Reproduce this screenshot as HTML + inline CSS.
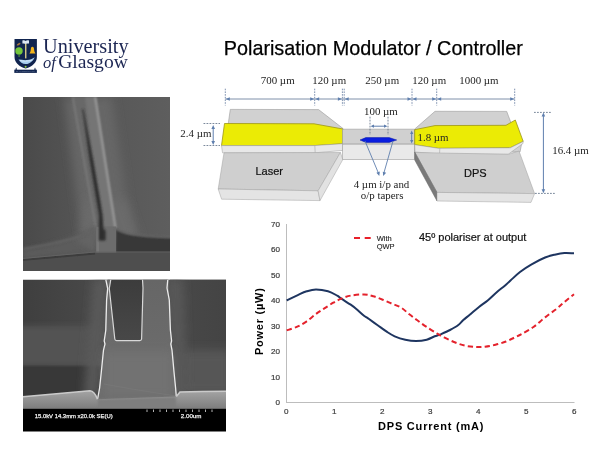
<!DOCTYPE html>
<html><head><meta charset="utf-8"><title>Polarisation Modulator / Controller</title>
<style>
html,body{margin:0;padding:0;background:#fff;}
body{width:600px;height:467px;overflow:hidden;position:relative;}
svg{position:absolute;left:0;top:0;display:block;}
</style></head><body>
<svg width="600" height="467" viewBox="0 0 600 467">
<defs>
  <filter id="b1" x="-50%" y="-50%" width="200%" height="200%"><feGaussianBlur stdDeviation="1"/></filter>
  <filter id="b2" x="-50%" y="-50%" width="200%" height="200%"><feGaussianBlur stdDeviation="2.5"/></filter>
  <filter id="b4" x="-50%" y="-50%" width="200%" height="200%"><feGaussianBlur stdDeviation="5"/></filter>
  <filter id="b05" x="-50%" y="-50%" width="200%" height="200%"><feGaussianBlur stdDeviation="0.5"/></filter>
  <linearGradient id="sem1bg" x1="0" y1="0" x2="1" y2="0">
    <stop offset="0" stop-color="#4a4a4a"/><stop offset="0.4" stop-color="#555"/><stop offset="1" stop-color="#5e5e5e"/>
  </linearGradient>
  <linearGradient id="sem2bot" x1="0" y1="0" x2="0" y2="1">
    <stop offset="0" stop-color="#a4a4a4"/><stop offset="1" stop-color="#7c7c7c"/>
  </linearGradient>
  <linearGradient id="sem2l" x1="23" y1="0" x2="107" y2="0" gradientUnits="userSpaceOnUse">
    <stop offset="0" stop-color="#3f3f3f"/><stop offset="0.7" stop-color="#474747"/><stop offset="1" stop-color="#505050"/>
  </linearGradient>
  <linearGradient id="sem2r" x1="170" y1="0" x2="226" y2="0" gradientUnits="userSpaceOnUse">
    <stop offset="0" stop-color="#505050"/><stop offset="0.4" stop-color="#474747"/><stop offset="1" stop-color="#444"/>
  </linearGradient>
  <linearGradient id="ridge" x1="0" y1="279.5" x2="0" y2="360" gradientUnits="userSpaceOnUse">
    <stop offset="0" stop-color="#666"/><stop offset="0.7" stop-color="#6a6a6a"/><stop offset="1" stop-color="#6c6c6c"/>
  </linearGradient>
  <linearGradient id="slotg" x1="0" y1="279.5" x2="0" y2="341" gradientUnits="userSpaceOnUse">
    <stop offset="0" stop-color="#3c3c3c"/><stop offset="1" stop-color="#484848"/>
  </linearGradient>
  <clipPath id="c1"><rect x="23" y="97" width="147" height="174"/></clipPath>
  <clipPath id="c2"><rect x="23" y="279.5" width="203" height="129.5"/></clipPath>
</defs>

<!-- ===== Logo ===== -->
<g>
  <path d="M14.5,39 H36.9 V57 C36.9,62.5 32.5,66.5 25.6,68.6 C18.9,66.5 14.5,62.5 14.5,57 Z" fill="#11244f"/>
  <path d="M22.4,40.6 C23.8,40.1 24.9,40.4 25.6,41 C26.4,40.4 27.5,40.1 29,40.6 L29,43.6 C27.6,43.2 26.5,43.4 25.6,43.9 C24.8,43.4 23.7,43.2 22.4,43.6 Z" fill="#dde6f4"/>
  <ellipse cx="18.6" cy="44.2" rx="2.1" ry="0.9" fill="#a8773f" transform="rotate(-30 18.6 44.2)"/>
  <rect x="25.1" y="43.8" width="1.3" height="14.6" fill="#e6d68a"/>
  <circle cx="19" cy="50.9" r="3.7" fill="#74c63c"/>
  <rect x="18.6" y="54" width="0.9" height="3" fill="#5aa832"/>
  <path d="M32.4,46.8 C31.2,46.8 30.9,48 30.8,49.5 C30.7,51.5 30,52.6 29.4,53.6 L35.5,53.6 C34.9,52.6 34.2,51.5 34.1,49.5 C34,48 33.6,46.8 32.4,46.8 Z" fill="#f3b41b"/>
  <path d="M18.5,59.6 C21,59.9 24,60.3 27,60.1 C30,59.9 32.5,58.9 34.7,57.3 C34.2,58.8 33.4,60 32.2,61 C30.5,62.9 28,64.1 25.5,64.1 C22.5,64.1 20,62.3 18.5,59.6 Z" fill="#a6cdee"/>
  <path d="M20,60.5 C23,61.3 28,61.5 32.5,60" stroke="#e8f2fb" stroke-width="0.7" fill="none"/>
  <circle cx="25.6" cy="66.8" r="1" fill="#93cf3b"/>
  <path d="M14.3,69.7 H36.9 V72.9 H14.3 Z" fill="#11244f"/>
  <path d="M15.2,69.8 L16.2,67.6 L17.2,69.8 Z M34,69.8 L35,67.6 L36,69.8 Z" fill="#11244f"/>
  <text x="25.6" y="72.2" text-anchor="middle" font-family="Liberation Serif, serif" font-size="2.6" textLength="19.5" lengthAdjust="spacingAndGlyphs" fill="#a9b8d4">VIA VERITAS VITA</text>
  <text x="43" y="52.6" font-family="Liberation Serif, serif" font-size="20.3" fill="#1c2653">University</text>
  <text x="43" y="68.3" font-family="Liberation Serif, serif" font-size="19" fill="#1c2653"><tspan font-style="italic" font-size="16.5">of</tspan><tspan x="58.2" font-size="19.6">Glasgow</tspan></text>
</g>

<!-- ===== Title ===== -->
<text x="223.8" y="55" font-family="Liberation Sans, Arial, sans-serif" font-size="19.8" fill="#000" stroke="#000" stroke-width="0.25">Polarisation Modulator / Controller</text>

<!-- ===== SEM image 1 ===== -->
<g clip-path="url(#c1)">
  <rect x="23" y="97" width="147" height="174" fill="url(#sem1bg)"/>
  <!-- glow around waveguide -->
  <path d="M64,97 L112,97 L132,236 L82,236 Z" fill="#666" filter="url(#b4)"/>
  <path d="M86,200 L126,200 L140,240 L80,240 Z" fill="#6a6a6a" filter="url(#b4)"/>
  <path d="M72.7,97 L95.2,97 L115.5,228 L96,228 Z" fill="#686868" filter="url(#b1)"/>
  <path d="M85,97 L95.2,97 L115.5,228 L101,228 Z" fill="#747474" filter="url(#b1)"/>
  <path d="M72.7,97 L96,228" stroke="#808080" stroke-width="1.4" filter="url(#b1)"/>
  <path d="M95.2,97 L115.5,228" stroke="#a0a0a0" stroke-width="2" filter="url(#b1)"/>
  <!-- base -->
  <path d="M96,226 C85,233 70,239 45,246 C35,248 28,249 22,250 L22,259 L95,252.5 Z" fill="#5b5b5b" filter="url(#b2)"/>
  <path d="M96,226 C90,232 85,236 75,240 L95,252 Z" fill="#636363" filter="url(#b2)"/>
  <path d="M116,229 C125,236 145,238 180,238 L180,253 L116,253 Z" fill="#393939" filter="url(#b1)"/>
  <path d="M96,226.5 L116,226.5 L116,253 L96,253 Z" fill="#6c6c6c" filter="url(#b05)"/>
  <path d="M96.5,227 L99,227 L99,253 L96.5,253 Z" fill="#777" filter="url(#b05)"/>
  <path d="M82.2,109 L83.4,109 L93.2,160 L100.2,200 L102.6,215 L103.5,229 L105.5,230.5 L105.5,240.5 L98.8,240.5 L98.8,215 L96.3,200 L89.6,160 Z" fill="#2e2e2e" filter="url(#b1)"/>
  <path d="M96.5,228 C88,235 70,241 23,249" stroke="#666" stroke-width="1.6" fill="none" filter="url(#b1)"/>
  <path d="M115.5,228 C122,234 140,237 180,237" stroke="#666" stroke-width="1.6" fill="none" filter="url(#b1)"/>
  <path d="M115.5,228 L115.5,253" stroke="#7a7a7a" stroke-width="0.8" filter="url(#b05)"/>
  
  <path d="M22,259 L95,252.5 L180,252.5 L180,271 L22,271 Z" fill="#4e4e4e"/>
  <path d="M22,260 L95,253.5" stroke="#3c3c3c" stroke-width="2" fill="none" filter="url(#b05)"/>
  <path d="M22,258.5 L95,252 L180,252" stroke="#626262" stroke-width="1" fill="none" filter="url(#b05)"/>
</g>

<!-- ===== SEM image 2 ===== -->
<g>
  <g clip-path="url(#c2)">
    <rect x="23" y="279.5" width="203" height="130" fill="url(#sem2l)"/>
    <rect x="18" y="326" width="86" height="40" fill="#525252" filter="url(#b2)"/>
    <rect x="18" y="366" width="82" height="30" fill="#393939" filter="url(#b1)"/>
    <rect x="170" y="279.5" width="56" height="130" fill="url(#sem2r)"/>
    <rect x="180" y="350" width="52" height="45" fill="#565656" filter="url(#b4)"/>
    <!-- glows next to ridge -->
    <path d="M94,279.5 L107,279.5 L98,397 L84,397 Z" fill="#5a5a5a" filter="url(#b4)"/>
    <path d="M168,279.5 L182,279.5 L186,397 L175,397 Z" fill="#585858" filter="url(#b4)"/>
    <!-- central ridge -->
    <path d="M107.2,279.5 L168.4,279.5 L171.3,343 L175.7,388 L176.5,397 L97.5,399.5 L99.5,388 L104.6,343 Z" fill="#6c6c6c"/>
    <path d="M108,279.5 L168,279.5 L171,360 L104,360 Z" fill="url(#ridge)"/>
    <rect x="104" y="352" width="68" height="46" fill="#727272" filter="url(#b4)"/>
    <path d="M104,384 C125,388 150,392 176,396" stroke="#7a7a7a" stroke-width="0.6" fill="none"/>
    <!-- slot -->
    <path d="M110.8,279.5 L142.5,279.5 L143,288 L141.6,339 Q141.4,340.6 139.8,340.6 L116.5,340.6 Q115,340.6 114.8,339 L109.3,288.5 Z" fill="url(#slotg)" stroke="#d8d8d8" stroke-width="1.2"/>
    <!-- ridge edges -->
    <path d="M105.8,279.5 L107.7,288.5 L106.6,300 L105.8,330 L104.2,341 L105,344 L103.5,350 L101.3,372 L99.6,388 L97.6,399" stroke="#ececec" stroke-width="1.3" fill="none" filter="url(#b05)"/>
    <path d="M167.8,279.5 L167,288 L169.3,300 L170.4,330 L171.6,341 L170.8,344 L172,350 L174,372 L175.6,388 L176.3,396.5" stroke="#ececec" stroke-width="1.3" fill="none" filter="url(#b05)"/>
    <!-- bottom band -->
    <path d="M23,396.7 L90,390.8 C93,391 95.5,394 97.5,399.2 L176.3,396.5 L180,392 C195,391.5 215,391.3 226,391.3 L226,409 L23,409 Z" fill="url(#sem2bot)"/>
    <path d="M98,399.5 L176,397 L176,409 L98,409 Z" fill="#7e7e7e" filter="url(#b1)"/>
    <path d="M23,396.7 L90,390.8 C93,391 95.5,394 97.5,399.2" stroke="#cacaca" stroke-width="1.6" fill="none" filter="url(#b05)"/>
    <path d="M176.3,396.5 L180,392 C195,391.5 215,391.3 226,391.3" stroke="#cacaca" stroke-width="1.6" fill="none" filter="url(#b05)"/>
  </g>
    <rect x="23" y="408.8" width="203" height="22.7" fill="#000"/>
  <g stroke="#e0e0e0" stroke-width="0.8">
    <path d="M147,409.5v2.5M153.5,409.5v2.5M160,409.5v2.5M166.5,409.5v2.5M173,409.5v2.5M179.5,409.5v2.5M186,409.5v2.5M192.5,409.5v2.5M199,409.5v2.5M205.5,409.5v2.5M212,409.5v2.5"/>
  </g>
  <text x="34.7" y="417.6" font-family="Liberation Sans, Arial, sans-serif" font-size="5.9" fill="#f0f0f0" stroke="#f0f0f0" stroke-width="0.25">15.0kV 14.3mm x20.0k SE(U)</text>
  <text x="180.8" y="417.8" font-family="Liberation Sans, Arial, sans-serif" font-size="6.2" fill="#f0f0f0" stroke="#f0f0f0" stroke-width="0.25">2.00um</text>
</g>

<!-- ===== Diagram ===== -->
<g font-family="Liberation Serif, serif" font-size="10.9" fill="#222">
  <!-- top dimension -->
  <line x1="225.3" y1="99" x2="514.7" y2="99" stroke="#7f90aa" stroke-width="1"/>
  <g stroke="#6f84a6" stroke-width="0.9" stroke-dasharray="1.6,1.1">
    <line x1="225.3" y1="88.7" x2="225.3" y2="105.5"/>
    <line x1="314.7" y1="88.7" x2="314.7" y2="105.5"/>
    <line x1="342.4" y1="88.7" x2="342.4" y2="105.5"/>
    <line x1="344.2" y1="88.7" x2="344.2" y2="105.5"/>
    <line x1="412" y1="88.7" x2="412" y2="105.5"/>
    <line x1="436.7" y1="88.7" x2="436.7" y2="105.5"/>
    <line x1="514.7" y1="88.7" x2="514.7" y2="105.5"/>
  </g>
  <g fill="#5f7fae">
    <path d="M225.8,99 l4,-1.8 v3.6z"/><path d="M314.2,99 l-4,-1.8 v3.6z"/>
    <path d="M315.2,99 l4,-1.8 v3.6z"/><path d="M341.9,99 l-4,-1.8 v3.6z"/>
    <path d="M344.7,99 l4,-1.8 v3.6z"/><path d="M411.5,99 l-4,-1.8 v3.6z"/>
    <path d="M412.5,99 l4,-1.8 v3.6z"/><path d="M436.2,99 l-4,-1.8 v3.6z"/>
    <path d="M437.2,99 l4,-1.8 v3.6z"/><path d="M514.2,99 l-4,-1.8 v3.6z"/>
  </g>
  <text x="260.8" y="84">700 µm</text>
  <text x="312.3" y="84">120 µm</text>
  <text x="365.3" y="84">250 µm</text>
  <text x="412.3" y="84">120 µm</text>
  <text x="459.3" y="84">1000 µm</text>

  <!-- left 2.4um dimension -->
  <g stroke="#6b7a90" stroke-width="0.9" stroke-dasharray="1.8,1.2">
    <line x1="203.5" y1="123.5" x2="220" y2="123.5"/>
    <line x1="203.5" y1="145.5" x2="220" y2="145.5"/>
  </g>
  <line x1="213.2" y1="127" x2="213.2" y2="143" stroke="#5f7fae" stroke-width="1"/>
  <path d="M213.2,125 l-1.8,4 h3.6z M213.2,145 l-1.8,-4 h3.6z" fill="#5f7fae"/>
  <text x="180.3" y="137.2">2.4 µm</text>

  <!-- LASER (left) device -->
  <path d="M230.3,109.4 L318.6,109.6 L343,128.5 L343,146 L225,146 Z" fill="#d1d1d1" stroke="#9a9a9a" stroke-width="0.6"/>
  <path d="M224.5,123.5 L314,123.8 L343,129 L343,143.7 L314,145.6 L221.5,145.6 Z" fill="#ebeb05" stroke="#9c9618" stroke-width="0.8"/>
  <path d="M221.5,145.6 L314,145.6 L343,143.7 L343,150.4 L315,152.8 L222.5,152.8 Z" fill="#e8e8e8" stroke="#9a9a9a" stroke-width="0.5"/>
  <line x1="314.8" y1="145.6" x2="315.2" y2="152.8" stroke="#9a9a9a" stroke-width="0.5"/>
  <path d="M224,152.8 L340.4,152.5 L318.1,190.8 L218.2,189 Z" fill="#cfcfcf" stroke="#a0a0a0" stroke-width="0.5"/>
  <path d="M218.2,189 L318.1,190.8 L320,200.6 L221.6,199.2 Z" fill="#e4e4e4" stroke="#a0a0a0" stroke-width="0.5"/>
  <path d="M340.4,152.5 L342.8,159.6 L320,200.6 L318.1,190.8 Z" fill="#e2e2e2" stroke="#a0a0a0" stroke-width="0.5"/>
  <text x="255.5" y="174.5" font-family="Liberation Sans, Arial, sans-serif" font-size="11" fill="#111" stroke="#111" stroke-width="0.2">Laser</text>

  <!-- centre block -->
  <path d="M342.5,129.2 L414.5,129.2 L414.5,144.2 L342.5,144.2 Z" fill="#d0d0d0" stroke="#9a9a9a" stroke-width="0.6"/>
  <path d="M342.5,144.2 L414.5,144.2 L414.5,159.5 L342.5,159.5 Z" fill="#e9e9e9" stroke="#9a9a9a" stroke-width="0.6"/>
  <path d="M360,140 L365.8,137.6 L389.2,137.6 L396.7,140 L389.2,142.4 L365.8,142.4 Z" fill="#0a1ee0" stroke="#0a16a0" stroke-width="0.5"/>
  <g stroke="#6b7a90" stroke-width="0.9" stroke-dasharray="1.8,1.2">
    <line x1="370" y1="116.7" x2="370" y2="135"/>
    <line x1="388" y1="116.7" x2="388" y2="135"/>
  </g>
  <line x1="372" y1="126.2" x2="386" y2="126.2" stroke="#5f7fae" stroke-width="1"/>
  <path d="M370.5,126.2 l3.5,-1.6 v3.2z M387.5,126.2 l-3.5,-1.6 v3.2z" fill="#5f7fae"/>
  <text x="364" y="115">100 µm</text>
  <!-- taper arrows -->
  <g stroke="#5f7fae" stroke-width="0.9">
    <line x1="365" y1="141" x2="378.8" y2="174"/>
    <line x1="393" y1="141" x2="383.6" y2="174"/>
  </g>
  <path d="M379.3,176 l-2.9,-3.2 l3.4,-1.2z M383.2,176 l-0.4,-4.3 l3.4,1.1z" fill="#5f7fae"/>
  <text x="353.7" y="187.5">4 µm i/p and</text>
  <text x="360.8" y="199.2">o/p tapers</text>
  <!-- 1.8um -->
  <line x1="411.7" y1="132.5" x2="411.7" y2="141.8" stroke="#5f7fae" stroke-width="1"/>
  <path d="M411.7,130.6 l-1.6,3.4 h3.2z M411.7,143.5 l-1.6,-3.4 h3.2z" fill="#5f7fae"/>

  <!-- DPS (right) device -->
  <path d="M435,111.3 L506.7,111.4 L510.3,121 L522,142 L520,152 L414.5,152 L414.5,129.2 Z" fill="#d1d1d1" stroke="#9a9a9a" stroke-width="0.6"/>
  <path d="M414.7,129.7 L435,125.6 L506,125.3 L515.3,120 L523.2,141.4 L510.3,147.8 L438.3,148.3 L414.7,144.7 Z" fill="#ebeb05" stroke="#9c9618" stroke-width="0.8"/>
  <path d="M414.7,144.7 L438.3,148.3 L510.3,147.8 L523.2,141.4 L523,143.5 L508.2,154.3 L439.8,154 L415,152 Z" fill="#e8e8e8" stroke="#9a9a9a" stroke-width="0.5"/>
  <line x1="439.8" y1="148.3" x2="439.6" y2="154" stroke="#9a9a9a" stroke-width="0.5"/>
  <path d="M415,152.5 L508.2,154.3 L519,151 L534.6,193.6 L437,192.4 Z" fill="#cfcfcf" stroke="#a0a0a0" stroke-width="0.5"/>
  <path d="M414.7,152 L437,192.4 L437,201 L414.7,160 Z" fill="#7a7a7a" stroke="#666" stroke-width="0.5"/>
  <path d="M437,192.4 L534.6,193.6 L531,202.4 L437,201 Z" fill="#e4e4e4" stroke="#a0a0a0" stroke-width="0.5"/>
  <text x="464" y="176.8" font-family="Liberation Sans, Arial, sans-serif" font-size="11" fill="#111" stroke="#111" stroke-width="0.2">DPS</text>
  <text x="417.5" y="141.3">1.8 µm</text>

  <!-- 16.4um -->
  <g stroke="#6b7a90" stroke-width="0.9" stroke-dasharray="1.8,1.2">
    <line x1="534" y1="112.4" x2="551" y2="112.4"/>
    <line x1="535" y1="193.4" x2="556" y2="193.4"/>
  </g>
  <line x1="543.4" y1="115" x2="543.4" y2="191" stroke="#5f7fae" stroke-width="1"/>
  <path d="M543.4,112.6 l-1.8,4 h3.6z M543.4,193.2 l-1.8,-4 h3.6z" fill="#5f7fae"/>
  <text x="552.2" y="153.8">16.4 µm</text>
</g>

<!-- ===== Chart ===== -->
<g font-family="Liberation Sans, Arial, sans-serif">
  <line x1="286.5" y1="224" x2="286.5" y2="402.5" stroke="#bdbdbd" stroke-width="1"/>
  <line x1="286" y1="402.5" x2="574.5" y2="402.5" stroke="#bdbdbd" stroke-width="1"/>
  <g font-size="8.1" fill="#3a3a3a" stroke="#3a3a3a" stroke-width="0.2" text-anchor="end">
    <text x="280" y="226.9">70</text>
    <text x="280" y="252.4">60</text>
    <text x="280" y="277.9">50</text>
    <text x="280" y="303.4">40</text>
    <text x="280" y="328.9">30</text>
    <text x="280" y="354.4">20</text>
    <text x="280" y="379.9">10</text>
    <text x="280" y="405.4">0</text>
  </g>
  <g font-size="8.1" fill="#3a3a3a" stroke="#3a3a3a" stroke-width="0.2" text-anchor="middle">
    <text x="286.3" y="414.4">0</text>
    <text x="334.3" y="414.4">1</text>
    <text x="382.3" y="414.4">2</text>
    <text x="430.3" y="414.4">3</text>
    <text x="478.3" y="414.4">4</text>
    <text x="526.3" y="414.4">5</text>
    <text x="574.3" y="414.4">6</text>
  </g>
  <text x="378" y="430" font-size="11" font-weight="bold" letter-spacing="0.8" fill="#000">DPS Current (mA)</text>
  <text transform="translate(263.4,355) rotate(-90)" font-size="11" font-weight="bold" letter-spacing="0.75" fill="#000">Power (µW)</text>
  <path d="M286.7,300.5 C288.5,299.6 294.0,296.8 297.3,295.3 C300.6,293.8 303.6,292.2 306.7,291.3 C309.8,290.4 312.4,289.6 316.0,289.6 C319.6,289.6 324.4,290.3 328.0,291.3 C331.6,292.3 335.1,294.5 337.3,295.7 C339.5,296.9 339.1,297.2 341.3,298.7 C343.5,300.2 348.2,303.0 350.7,304.7 C353.1,306.4 353.8,306.9 356.0,308.7 C358.2,310.5 362.0,314.1 364.0,315.7 C366.0,317.3 365.8,316.8 368.0,318.3 C370.2,319.9 374.2,322.8 377.3,325.0 C380.4,327.2 383.8,329.8 386.7,331.7 C389.6,333.6 391.6,335.0 394.7,336.3 C397.8,337.6 401.8,338.9 405.3,339.7 C408.9,340.5 412.4,341.0 416.0,341.0 C419.6,341.0 423.6,340.5 426.7,339.7 C429.8,338.9 432.4,337.2 434.7,336.3 C437.0,335.4 438.1,335.4 440.7,334.3 C443.2,333.2 447.1,331.5 450.0,330.0 C452.9,328.5 455.8,327.0 458.0,325.3 C460.2,323.6 461.3,321.8 463.3,320.0 C465.3,318.2 467.4,316.7 470.0,314.5 C472.6,312.3 476.0,309.4 479.0,307.0 C482.0,304.6 485.0,302.7 488.0,300.2 C491.0,297.7 494.2,294.4 497.0,292.0 C499.8,289.6 502.2,287.9 504.5,286.0 C506.8,284.1 507.9,282.8 510.5,280.5 C513.1,278.2 516.5,274.7 520.0,272.0 C523.5,269.3 527.4,266.7 531.6,264.3 C535.8,261.9 541.2,259.1 545.1,257.5 C549.0,255.9 551.5,255.4 554.7,254.7 C557.9,254.0 561.2,253.3 564.4,253.1 C567.6,252.9 572.4,253.3 574.0,253.3" fill="none" stroke="#1e3560" stroke-width="2"/>
  <path d="M286.7,330.4 C288.5,329.8 294.0,328.2 297.3,326.7 C300.6,325.2 303.6,323.4 306.7,321.3 C309.8,319.2 313.1,316.1 316.0,314.0 C318.9,311.9 321.1,310.6 324.0,308.7 C326.9,306.8 330.4,304.4 333.3,302.7 C336.2,301.0 338.4,299.9 341.3,298.7 C344.2,297.5 346.9,296.3 350.7,295.6 C354.5,294.9 360.2,294.4 364.0,294.5 C367.8,294.6 370.2,295.4 373.3,296.3 C376.4,297.2 379.6,298.5 382.7,299.7 C385.8,300.9 388.9,302.4 392.0,303.7 C395.1,305.0 398.4,305.9 401.3,307.7 C404.2,309.5 406.6,312.2 409.3,314.3 C412.0,316.4 414.4,318.2 417.3,320.3 C420.2,322.4 423.4,324.8 426.7,327.0 C430.0,329.2 434.5,332.0 437.3,333.7 C440.1,335.4 440.5,335.6 443.3,337.0 C446.1,338.4 450.4,340.6 454.0,342.0 C457.6,343.4 461.1,344.8 464.7,345.6 C468.2,346.4 471.9,346.8 475.3,347.0 C478.7,347.2 481.6,347.1 485.0,346.7 C488.4,346.3 492.0,345.7 495.5,344.8 C499.0,343.9 502.8,342.8 506.0,341.5 C509.2,340.2 512.3,338.6 515.0,337.3 C517.7,336.0 518.9,335.5 522.0,333.8 C525.1,332.1 529.6,329.7 533.5,327.0 C537.4,324.3 541.2,320.4 545.1,317.4 C549.0,314.3 553.5,311.3 556.7,308.7 C559.9,306.1 561.5,304.4 564.4,302.0 C567.3,299.6 572.4,295.5 574.0,294.2" fill="none" stroke="#e4222c" stroke-width="2" stroke-dasharray="5.3,3.2"/>
  <path d="M354,238 h16.7" stroke="#e8202a" stroke-width="2.2" stroke-dasharray="6,4.7"/>
  <text x="376.7" y="240.7" font-size="7.5" fill="#222" stroke="#222" stroke-width="0.12">With</text>
  <text x="376.7" y="249.4" font-size="7.5" fill="#222" stroke="#222" stroke-width="0.12">QWP</text>
  <text x="419" y="240.7" font-size="11" fill="#111" stroke="#111" stroke-width="0.2">45º polariser at output</text>
</g>

</svg>
</body></html>
